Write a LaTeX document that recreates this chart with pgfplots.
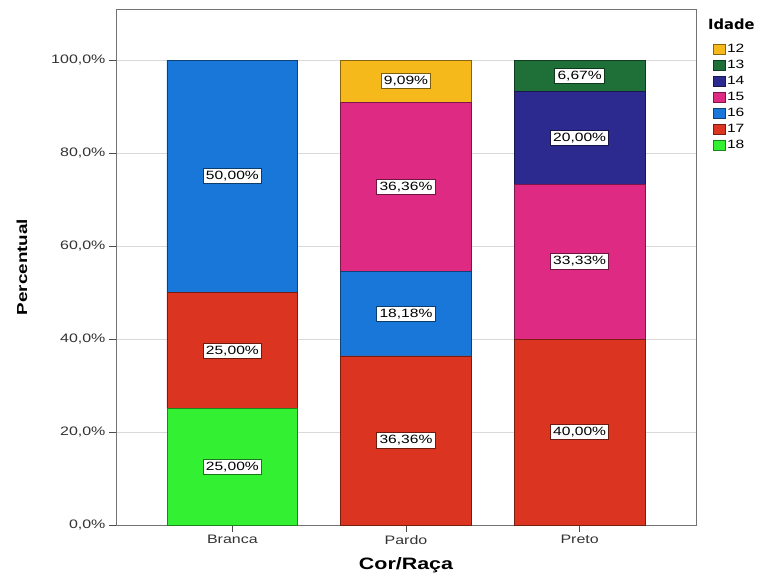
\documentclass[border=0pt]{standalone}
\usepackage{pgfplots}
\pgfplotsset{compat=1.18}
\usepackage{fontspec}
\setmainfont{Liberation Sans}[FakeStretch=1.3]
\newfontfamily\titlefont{DejaVu Sans}[FakeStretch=1.05]

\definecolor{c12}{HTML}{F6B91C}
\definecolor{c13}{HTML}{1E6F38}
\definecolor{c14}{HTML}{2C2A8E}
\definecolor{c15}{HTML}{DE2A82}
\definecolor{c16}{HTML}{1877D8}
\definecolor{c17}{HTML}{DB3420}
\definecolor{c18}{HTML}{33F033}

\pgfplotsset{
  frame/.style={width=580pt, height=516pt, scale only axis,
    xmin=-0.67, xmax=2.67, ymin=0, ymax=111},
  seg/.style={fill=#1, draw=#1!55!black, line width=0.8pt},
  lab/.style={draw=none, mark=none, point meta=explicit symbolic,
    nodes near coords,
    every node near coord/.style={anchor=center, fill=white, draw=#1!50!black,
      line width=1pt, inner sep=2.6pt, text=black,
      font=\fontsize{12}{13}\selectfont}},
}

\begin{document}
\begin{tikzpicture}
\begin{axis}[frame, ybar stacked, bar width=0.753, clip=false,
  axis line style={black!55},
  xtick={0,1,2}, xticklabels={Branca,Pardo,Preto},
  ytick={0,20,40,60,80,100},
  yticklabels={{0,0\%},{20,0\%},{40,0\%},{60,0\%},{80,0\%},{100,0\%}},
  tick align=outside, tick pos=left, major tick length=7pt,
  tick style={black!70, line width=0.8pt},
  ticklabel style={font=\fontsize{12.3}{14}\selectfont, text=black!80},
  ymajorgrids, grid style={black!15, line width=0.6pt},
  xlabel={Cor/Raça}, ylabel={Percentual},
  xlabel style={at={([yshift=-40pt]rel axis cs:0.5,0)}, anchor=center,
    font=\fontsize{16.5}{18}\selectfont\bfseries},
  ylabel style={at={([xshift=-94pt]rel axis cs:0,0.5)}, anchor=center,
    font=\fontsize{14.5}{16}\selectfont\bfseries},
  reverse legend,
  legend image code/.code={\draw[#1] (0pt,-5pt) rectangle (12pt,5pt);},
  legend style={draw=none, fill=none, at={(rel axis cs:1,1)}, anchor=north west,
    xshift=17pt, yshift=-33pt, inner sep=0pt, row sep=2pt,
    font=\fontsize{12}{13}\selectfont,
    nodes={inner sep=1pt, text height=9pt, text depth=3pt}},
  legend cell align=left,
]
\addplot[seg=c18] coordinates {(0,25) (1,0) (2,0)};
\addplot[seg=c17] coordinates {(0,25) (1,36.36) (2,40)};
\addplot[seg=c16] coordinates {(0,50) (1,18.18) (2,0)};
\addplot[seg=c15] coordinates {(0,0) (1,36.36) (2,33.33)};
\addplot[seg=c14] coordinates {(0,0) (1,0) (2,20)};
\addplot[seg=c13] coordinates {(0,0) (1,0) (2,6.67)};
\addplot[seg=c12] coordinates {(0,0) (1,9.09) (2,0)};
\legend{18,17,16,15,14,13,12}
\node[anchor=west, inner sep=0pt, font=\fontsize{14}{16}\selectfont\titlefont\bfseries]
  at ([xshift=12pt, yshift=-15pt]rel axis cs:1,1) {Idade};
\path (rel axis cs:0,0) ++(-116pt,-55pt);
\path (rel axis cs:1,1) ++(67pt,9pt);
\end{axis}
\begin{axis}[frame, hide axis]
\addplot[lab=c18] coordinates {(0,12.5) [25,00\%]};
\addplot[lab=c17] coordinates {(0,37.5) [25,00\%] (1,18.18) [36,36\%] (2,20) [40,00\%]};
\addplot[lab=c16] coordinates {(0,75) [50,00\%] (1,45.45) [18,18\%]};
\addplot[lab=c15] coordinates {(1,72.72) [36,36\%] (2,56.67) [33,33\%]};
\addplot[lab=c14] coordinates {(2,83.33) [20,00\%]};
\addplot[lab=c13] coordinates {(2,96.67) [6,67\%]};
\addplot[lab=c12] coordinates {(1,95.45) [9,09\%]};
\end{axis}
\end{tikzpicture}
\end{document}
